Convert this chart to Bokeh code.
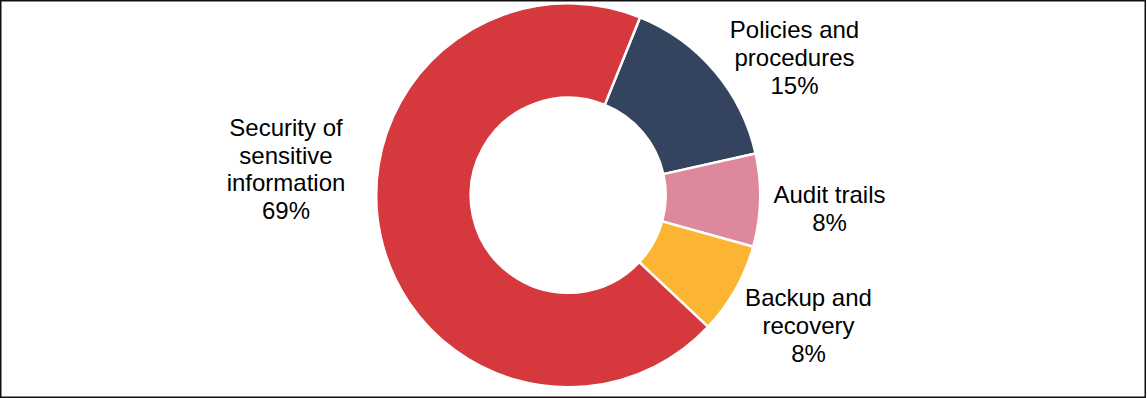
import math
from bokeh.plotting import figure
from bokeh.models import Range1d, ColumnDataSource
from bokeh.core.properties import value
from bokeh.embed import file_html
from bokeh.resources import INLINE

# ---- data ----
categories = ["Policies and\nprocedures", "Audit trails", "Backup and\nrecovery", "Security of\nsensitive\ninformation"]
shares = [15.4, 7.8, 7.7, 69.1]
pct_labels = ["15%", "8%", "8%", "69%"]
colors = ["#34445F", "#DE889C", "#FBB532", "#D6393D"]

# ---- layout / style ----
W, H = 1146, 398
cx, cy = 567.7, 203.2
r_out, r_in = 192.0, 97.5
start_deg = 22.0  # clockwise from 12 o'clock
label_x = [794.0, 829.0, 808.0, 285.5]
label_y = [341.0, 190.0, 73.0, 229.5]

total = sum(shares)
starts, ends = [], []
acc = start_deg
for s in shares:
    a0 = acc
    a1 = acc + 360.0 * s / total
    starts.append(math.radians(90.0 - a0))
    ends.append(math.radians(90.0 - a1))
    acc = a1

src = ColumnDataSource(dict(
    start=starts, end=ends, color=colors,
    x=[cx] * len(shares), y=[cy] * len(shares),
))

p = figure(width=W, height=H, output_backend="svg", toolbar_location=None,
           x_range=Range1d(0, W), y_range=Range1d(0, H), min_border=0)
p.axis.visible = False
p.grid.visible = False
p.outline_line_color = "#111111"
p.outline_line_width = 2
p.background_fill_color = "white"
p.border_fill_color = "white"

p.annular_wedge(x="x", y="y", inner_radius=r_in, outer_radius=r_out,
                start_angle="start", end_angle="end", direction="clock",
                fill_color="color", line_color="white", line_width=2.5, source=src)

texts = [c + "\n" + l for c, l in zip(categories, pct_labels)]
p.text(x=label_x, y=label_y, text=texts, text_align="center", text_baseline="middle",
       text_font=value("Liberation Sans"), text_font_size="24px", text_color="#000000",
       text_line_height=1.02)

open("out.html", "w").write(file_html(p, INLINE))
